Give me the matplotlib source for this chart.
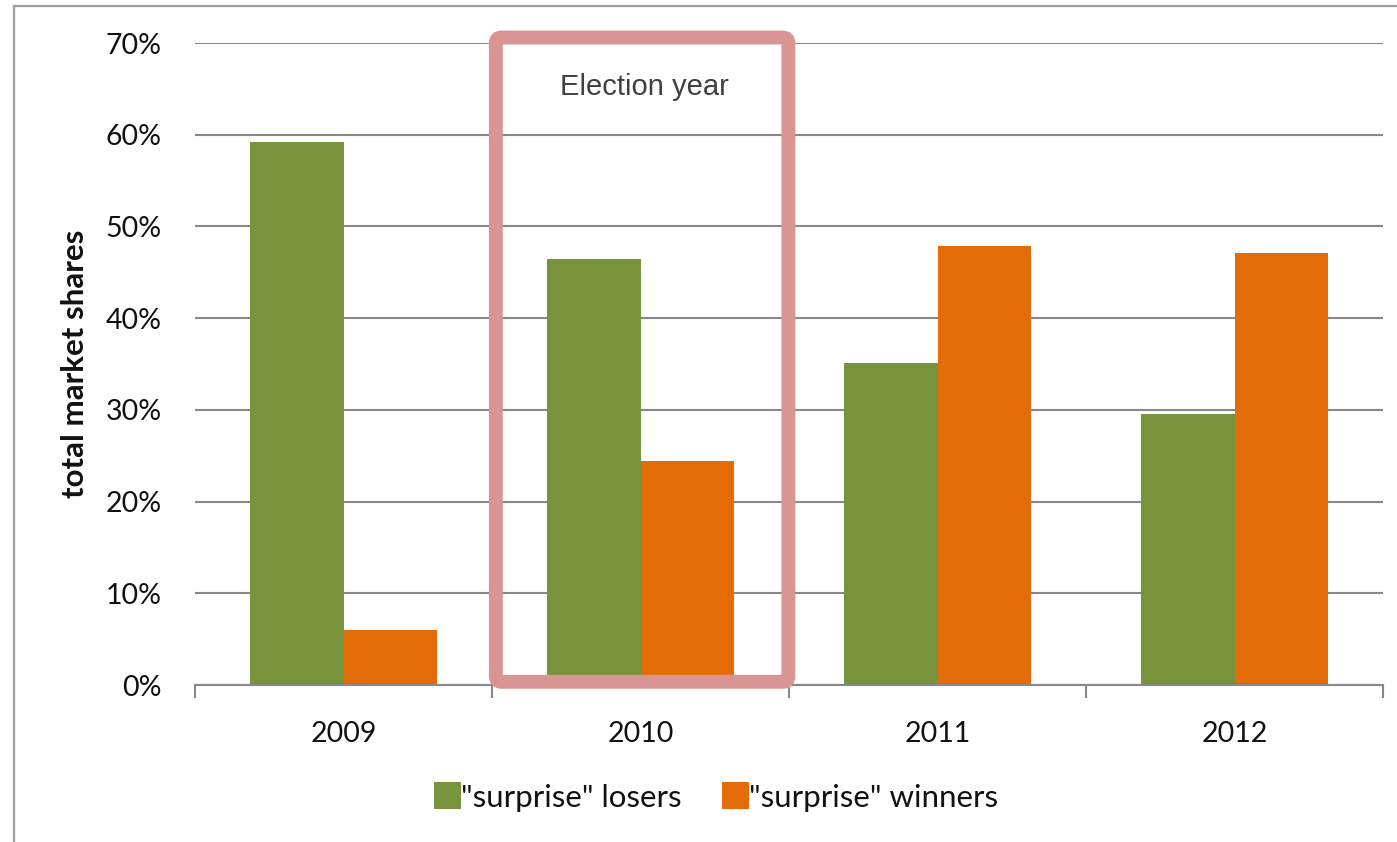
import matplotlib.pyplot as plt
import matplotlib.patches as patches
from matplotlib.lines import Line2D
import numpy as np

# chart data
years = ['2009', '2010', '2011', '2012']
losers = [59.2, 46.5, 35.1, 29.6]
winners = [6.0, 24.4, 47.9, 47.1]
y_ticks = [0, 10, 20, 30, 40, 50, 60, 70]
y_tick_labels = [f'{t}%' for t in y_ticks]
election_year = '2010'

green = '#77933C'
orange = '#E36C09'
pink = '#D99594'
grid_gray = '#888888'
text_col = '#111111'

plt.rcParams['font.family'] = ['Lato', 'DejaVu Sans']

W, H = 1397, 842
fig = plt.figure(figsize=(W / 100, H / 100), dpi=100)
ax = fig.add_axes([195 / W, 1 - 685 / H, (1383 - 195) / W, (685 - 43) / H])

x = np.arange(len(years))
bar_w = 0.316
ax.bar(x - bar_w / 2, losers, bar_w, color=green, label='"surprise" losers', zorder=3)
ax.bar(x + bar_w / 2, winners, bar_w, color=orange, label='"surprise" winners', zorder=3)

ax.set_xlim(-0.5, len(years) - 0.5)
ax.set_ylim(0, 70)
ax.set_yticks(y_ticks)
ax.set_yticklabels(y_tick_labels)
ax.yaxis.grid(True, color=grid_gray, linewidth=1.5, zorder=0)
ax.tick_params(axis='y', length=0, pad=24, labelsize=20.5, labelcolor=text_col)

# category labels centred, ticks on band edges
ax.set_xticks(x)
ax.set_xticklabels(years)
ax.set_xticks(np.arange(len(years) + 1) - 0.5, minor=True)
ax.tick_params(axis='x', which='major', length=0, pad=26, labelsize=20.5, labelcolor=text_col)
ax.tick_params(axis='x', which='minor', length=9, width=1.5, color=grid_gray, direction='out')

for side in ['left', 'right', 'top']:
    ax.spines[side].set_visible(False)
ax.spines['bottom'].set_color(grid_gray)
ax.spines['bottom'].set_linewidth(1.5)
ax.spines['bottom'].set_zorder(4)

ax.set_ylabel('total market shares', fontsize=22.5, fontweight='bold', color=text_col)
ax.yaxis.set_label_coords(-0.089, 0.5)

# election year highlight
ei = years.index(election_year)
box = patches.FancyBboxPatch((ei - 0.487, 0.35), 0.985, 70.25,
                             boxstyle='round,pad=0,rounding_size=0.02',
                             mutation_aspect=30,
                             fill=False, edgecolor=pink, linewidth=10,
                             clip_on=False, zorder=5)
ax.add_patch(box)
ax.text(ei + 0.012, 65.2, 'Election year', ha='center', va='center',
        fontsize=21, color='#404040', family=['Liberation Sans', 'DejaVu Sans'], zorder=6)

leg = fig.legend(loc='center', bbox_to_anchor=(716 / W, 1 - 797 / H), ncol=2,
                 frameon=False, fontsize=22.5, handlelength=0.85, handleheight=0.95,
                 handletextpad=0.0, columnspacing=1.3)
for t in leg.get_texts():
    t.set_color(text_col)

# outer frame of the chart area
fig.add_artist(Line2D([14 / W, 1], [1 - 6 / H, 1 - 6 / H], color='#a0a0a0', linewidth=1.6))
fig.add_artist(Line2D([14 / W, 14 / W], [0, 1 - 6 / H], color='#a0a0a0', linewidth=1.6))

fig.savefig('out.png', dpi=100)
